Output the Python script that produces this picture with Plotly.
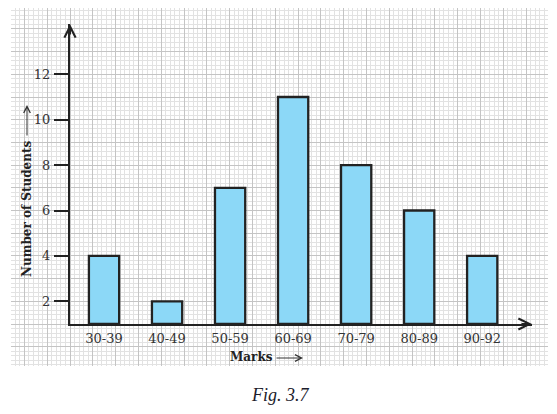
import plotly.graph_objects as go

# marks distribution (Fig. 3.7)
marks = ["30-39", "40-49", "50-59", "60-69", "70-79", "80-89", "90-92"]
students = [4, 2, 7, 11, 8, 6, 4]
y_ticks = [2, 4, 6, 8, 10, 12]

# the page body has an 8px margin, so the figure is 8px smaller each way
PAD = 8
W, H = 557 - PAD, 414 - PAD
y_base = 1  # the y axis starts at 1 (the bottom square is cut off)


def fx(p):
    # screen x pixel -> paper fraction
    return (p - PAD) / W


def fy(p):
    # screen y pixel -> paper fraction
    return 1 - (p - PAD) / H


fig = go.Figure()

# graph paper: an empty subplot whose gridlines are the squares
fig.add_trace(go.Scatter(x=[None], y=[None], xaxis="x", yaxis="y",
                         showlegend=False, hoverinfo="skip"))

# the bars sit on the x axis at y = 1
fig.add_trace(go.Bar(
    x=marks, y=[v - y_base for v in students], base=y_base,
    xaxis="x2", yaxis="y2",
    marker=dict(color="#8cd8f7", line=dict(color="#222222", width=2.3)),
    showlegend=False,
))

paper_grid = dict(showgrid=True, gridcolor="#c4c4c4", gridwidth=1.3,
                  dtick=1, tick0=0, zeroline=False, showticklabels=False,
                  ticks="", fixedrange=True, automargin=False,
                  minor=dict(showgrid=True, dtick=0.2, gridcolor="#e2e2e2",
                             gridwidth=1))
tick_font = dict(family="DejaVu Serif", size=13, color="#333333")

fig.update_layout(
    template="none",
    width=W, height=H,
    margin=dict(l=0, r=0, t=0, b=0, pad=0),
    paper_bgcolor="white", plot_bgcolor="rgba(0,0,0,0)",
    bargap=0.52,
    xaxis=dict(paper_grid, domain=[fx(11), fx(548)],
               range=[(11 - 70) / 22.8, (548 - 70) / 22.8]),
    yaxis=dict(paper_grid, domain=[fy(366), 1],
               range=[y_base - (366 - 324) / 22.7, y_base + (324 - 8) / 22.7]),
    xaxis2=dict(domain=[fx(70), fx(532)], anchor="y2", automargin=False,
                range=[-0.54, 6.79], showgrid=False, zeroline=False,
                showline=True, linecolor="#222222", linewidth=2.3,
                ticks="", ticklabelstandoff=1, tickfont=tick_font),
    yaxis2=dict(domain=[fy(324), fy(24)], anchor="x2", automargin=False,
                range=[y_base, y_base + 300 / 22.7], showgrid=False,
                zeroline=False, showline=True, linecolor="#222222",
                linewidth=2.3, tickvals=y_ticks, ticks="outside", ticklen=14,
                tickwidth=2, tickcolor="#222222", ticklabelstandoff=1,
                tickfont=tick_font),
)

# arrowheads at the ends of both axes
fig.add_annotation(x=1, y=0, xref="x2 domain", yref="y2 domain",
                   ax=-12, ay=0, showarrow=True, arrowhead=5, arrowsize=1.1,
                   arrowwidth=2, arrowcolor="#222222", text="")
fig.add_annotation(x=0, y=1, xref="x2 domain", yref="y2 domain",
                   ax=0, ay=12, showarrow=True, arrowhead=5, arrowsize=1.1,
                   arrowwidth=2, arrowcolor="#222222", text="")

title_font = dict(family="DejaVu Serif", size=12, color="#222222")
centred = dict(xref="paper", yref="paper", xanchor="center", yanchor="middle")

# y axis title with its little arrow
fig.add_annotation(x=fx(27), y=fy(209), text="<b>Number of Students</b>",
                   textangle=-90, showarrow=False, font=title_font, **centred)
fig.add_annotation(x=fx(27), y=fy(105), xref="paper", yref="paper",
                   ax=0, ay=32, showarrow=True, arrowhead=5, arrowsize=1.3,
                   arrowwidth=1, arrowcolor="#333333", text="")

# x axis title with its little arrow
fig.add_annotation(x=fx(251), y=fy(357), text="<b>Marks</b>",
                   showarrow=False, font=title_font, **centred)
fig.add_annotation(x=fx(303), y=fy(358), xref="paper", yref="paper",
                   ax=-28, ay=0, showarrow=True, arrowhead=5, arrowsize=1.3,
                   arrowwidth=1, arrowcolor="#333333", text="")

# caption
fig.add_annotation(x=fx(280), y=fy(395), text="<i>Fig. 3.7</i>",
                   showarrow=False, font=dict(family="Liberation Serif", size=18,
                                              color="#1c1c2c"), **centred)

fig.write_html("out.html")
